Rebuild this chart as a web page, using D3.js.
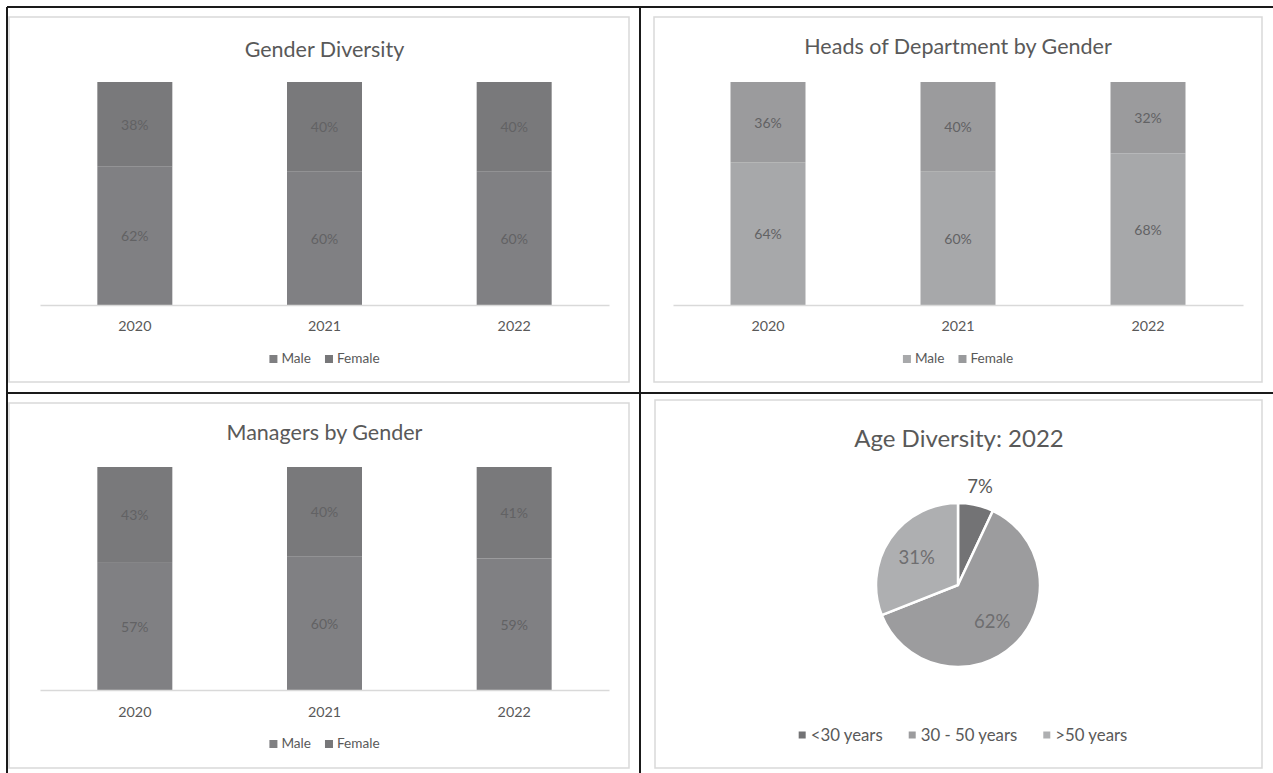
<!DOCTYPE html>
<html>
<head>
<meta charset="utf-8">
<script src="https://cdn.jsdelivr.net/npm/d3@7/dist/d3.min.js"></script>
<style>
  html, body { margin: 0; padding: 0; background: #fff; }
  svg { display: block; font-family: Lato, "Open Sans", sans-serif; }
</style>
</head>
<body>
<svg id="chart" width="1273" height="773"></svg>
<script>
// ---- Data ----
const years = ["2020", "2021", "2022"];
const genderMale = [62, 60, 60];
const genderFemale = [38, 40, 40];
const headsMale = [64, 60, 68];
const headsFemale = [36, 40, 32];
const managersMale = [57, 60, 59];
const managersFemale = [43, 40, 41];
const seriesNames = ["Male", "Female"];
const ageGroups = ["<30 years", "30 - 50 years", ">50 years"];
const ageShares = [7, 62, 31];

const svg = d3.select("#chart");
const textColor = "#595959";

// outer frame lines
const frame = svg.append("g").attr("stroke", "#1a1a1a").attr("stroke-width", 2);
frame.append("line").attr("x1", 7).attr("x2", 1273).attr("y1", 7).attr("y2", 7);
frame.append("line").attr("x1", 7).attr("x2", 7).attr("y1", 7).attr("y2", 773);
frame.append("line").attr("x1", 640).attr("x2", 640).attr("y1", 7).attr("y2", 773);
frame.append("line").attr("x1", 7).attr("x2", 1273).attr("y1", 393).attr("y2", 393);

function panelBox(x0, y0, x1, y1) {
  svg.append("rect").attr("x", x0).attr("y", y0).attr("width", x1 - x0).attr("height", y1 - y0)
    .attr("fill", "#fff").attr("stroke", "#d9d9d9").attr("stroke-width", 1.5);
}

function legend(g, items, colors, cx, cy, fontSize, markerSize, gapMarker, gapItem) {
  const lg = g.append("g");
  let x = 0;
  items.forEach((name, i) => {
    lg.append("rect").attr("x", x).attr("y", cy - markerSize / 2 + 1)
      .attr("width", markerSize).attr("height", markerSize).attr("fill", colors[i]);
    const t = lg.append("text").attr("x", x + markerSize + gapMarker).attr("y", cy)
      .attr("dominant-baseline", "central").attr("font-size", fontSize)
      .attr("fill", textColor).text(name);
    x += markerSize + gapMarker + t.node().getComputedTextLength() + gapItem;
  });
  const total = x - gapItem;
  lg.attr("transform", `translate(${cx - total / 2},0)`);
}

function stackedChart(opts) {
  const { box, title, titleY, axisX0, axisX1, top, base, male, female, colMale, colFemale,
          legMale, legFemale, labelColor, yearY, legendY } = opts;
  panelBox(...box);
  const g = svg.append("g");
  const cx = (axisX0 + axisX1) / 2;
  g.append("text").attr("x", cx).attr("y", titleY).attr("text-anchor", "middle")
    .attr("dominant-baseline", "central").attr("font-size", 21.5).attr("fill", textColor).text(title);

  const x = d3.scaleBand().domain(years).range([axisX0, axisX1]);
  const y = d3.scaleLinear().domain([0, 100]).range([base, top]);
  const barW = 75;

  const stackData = years.map((yr, i) => ({ year: yr, Male: male[i], Female: female[i] }));
  const stacked = d3.stack().keys(seriesNames)(stackData);
  const colors = { Male: colMale, Female: colFemale };

  stacked.forEach(layer => {
    g.append("g").selectAll("rect").data(layer).join("rect")
      .attr("x", d => x(d.data.year) + x.bandwidth() / 2 - barW / 2)
      .attr("width", barW)
      .attr("y", d => y(d[1]))
      .attr("height", d => y(d[0]) - y(d[1]))
      .attr("fill", colors[layer.key]);
    g.append("g").selectAll("text").data(layer).join("text")
      .attr("x", d => x(d.data.year) + x.bandwidth() / 2)
      .attr("y", d => (y(d[0]) + y(d[1])) / 2)
      .attr("text-anchor", "middle").attr("dominant-baseline", "central")
      .attr("font-size", 14).attr("fill", labelColor)
      .text(d => (d[1] - d[0]) + "%");
  });

  const axis = g.append("g").attr("transform", `translate(0,${base})`)
    .call(d3.axisBottom(x).tickSize(0).tickPadding(0));
  axis.select(".domain").attr("stroke", "#d9d9d9").attr("stroke-width", 1.5);
  axis.selectAll("text").attr("font-family", "Lato").attr("font-size", 14.3).attr("fill", textColor)
    .attr("dy", null).attr("y", yearY - base).attr("dominant-baseline", "central");

  legend(g, seriesNames, [legMale, legFemale], cx, legendY, 13.6, 8, 4, 14);
}

stackedChart({
  box: [9, 17, 629, 382], title: "Gender Diversity", titleY: 49,
  axisX0: 40, axisX1: 609, top: 82, base: 305,
  male: genderMale, female: genderFemale, colMale: "#808083", colFemale: "#79797b",
  legMale: "#7f7f81", legFemale: "#777779", labelColor: "#626264", yearY: 325, legendY: 358
});
stackedChart({
  box: [654, 17, 1262, 382], title: "Heads of Department by Gender", titleY: 46,
  axisX0: 673, axisX1: 1243, top: 82, base: 305,
  male: headsMale, female: headsFemale, colMale: "#a7a8aa", colFemale: "#9b9b9d",
  legMale: "#a8a9ab", legFemale: "#999a9c", labelColor: "#626264", yearY: 325, legendY: 358
});
stackedChart({
  box: [9, 403, 629, 768], title: "Managers by Gender", titleY: 432,
  axisX0: 40, axisX1: 609, top: 467, base: 690,
  male: managersMale, female: managersFemale, colMale: "#808083", colFemale: "#79797b",
  legMale: "#7f7f81", legFemale: "#777779", labelColor: "#626264", yearY: 711, legendY: 743
});

// ---- Pie ----
panelBox(655, 400, 1262, 768);
const pg = svg.append("g");
const pcx = 958, pcy = 585, pr = 82;
pg.append("text").attr("x", 959).attr("y", 437).attr("text-anchor", "middle")
  .attr("dominant-baseline", "central").attr("font-size", 24).attr("fill", textColor)
  .text("Age Diversity: 2022");
const pieColors = ["#737375", "#9c9c9e", "#aeafb1"];
const pie = d3.pie().sort(null).value(d => d)(ageShares);
const arc = d3.arc().innerRadius(0).outerRadius(pr);
const pieG = pg.append("g").attr("transform", `translate(${pcx},${pcy})`);
pieG.selectAll("path").data(pie).join("path")
  .attr("d", arc).attr("fill", (d, i) => pieColors[i])
  .attr("stroke", "#fff").attr("stroke-width", 2.5).attr("stroke-linejoin", "round");
const inLabel = d3.arc().innerRadius(50).outerRadius(50);
const outLabel = d3.arc().innerRadius(101).outerRadius(101);
pieG.selectAll("text").data(pie).join("text")
  .attr("transform", (d, i) => `translate(${(i === 0 ? outLabel : inLabel).centroid(d)})`)
  .attr("text-anchor", "middle").attr("dominant-baseline", "central")
  .attr("font-size", 18.5).attr("fill", (d, i) => i === 0 ? "#595959" : "#6e6e70")
  .text(d => d.data + "%");

legend(pg, ageGroups, pieColors, 963, 734, 16.8, 7, 5, 26);
</script>
</body>
</html>
